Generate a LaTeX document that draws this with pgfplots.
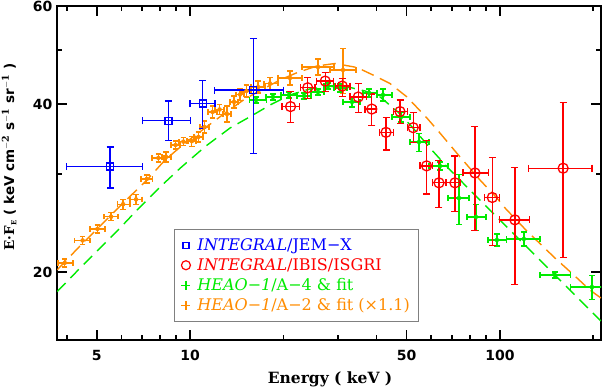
\documentclass[border=0pt]{standalone}
\usepackage{fontspec}
\setmainfont{DejaVu Serif}
\setsansfont{DejaVu Sans}
\usepackage{pgfplots}
\usepackage{pgfplotstable}
\pgfplotsset{compat=1.18}

\definecolor{cjem}{RGB}{0,0,255}
\definecolor{cisg}{RGB}{255,0,0}
\definecolor{ca4}{RGB}{0,235,0}
\definecolor{ca2}{RGB}{255,140,0}

% INTEGRAL/JEM-X
\pgfplotstableread{
x y exm exp eym eyp
5.52 30.9 1.52 1.51 2.6 2.6
8.51 37.35 1.48 1.54 2.95 3.15
10.99 40.1 0.99 1.05 3.9 3.96
16.0 42.4 4.02 4.0 9.8 10.0
}\jemx

% INTEGRAL/IBIS/ISGRI
\pgfplotstableread{
x y exm exp eym eyp
21.1 39.6 1.3 1.5 2.5 2.5
23.97 42.8 1.27 1.33 1.9 1.9
27.3 44.0 1.7 1.8 1.9 1.6
31.0 43.1 1.6 1.8 1.8 1.4
34.9 41.2 2.1 2.3 2.6 2.4
38.6 39.2 1.9 1.4 2.6 2.5
42.9 35.6 2.1 2.4 2.5 2.3
47.6 38.8 2.3 2.7 1.9 1.9
52.5 36.3 2.2 2.7 2.2 2.4
58.0 31.0 2.8 2.7 3.4 3.4
63.6 28.9 3.1 3.2 2.8 2.8
71.6 28.9 4.3 3.2 3.2 3.4
83.1 30.1 7.0 8.6 6.4 6.4
94.5 27.2 5.1 5.0 4.9 4.9
111.8 24.8 12.3 12.5 5.8 6.0
160 30.7 36 38.5 9.5 9.6
}\isgri

% HEAO-1/A-4
\pgfplotstableread{
x y exm exp ey
16.33 40.70 0.80 1.30 0.50
18.52 41.21 0.93 1.14 0.51
20.87 41.55 1.21 1.27 0.51
23.33 41.38 1.19 1.24 0.51
25.88 42.07 1.31 1.18 0.52
27.87 43.12 0.81 1.27 0.53
30.47 42.76 1.33 1.63 0.71
33.32 40.37 2.16 2.03 0.83
37.79 41.90 1.64 2.32 0.69
41.94 41.55 1.83 2.90 1.03
47.93 37.93 3.09 3.32 0.78
54.80 34.21 3.55 4.22 1.27
64.04 30.98 5.02 3.92 0.50
73.76 27.14 5.80 5.67 2.80
83.68 25.10 5.42 6.45 1.35
97.8 22.82 6.31 7.5 0.57
119.5 22.92 14.2 15.1 0.66
150.5 19.75 15.9 18.9 0.25
198.2 18.79 28.8 16.8 0.93
}\afour

% HEAO-1/A-2 (x1.1)
\pgfplotstableread{
x y exm exp ey
3.937 20.76 0.186 0.257 0.34
4.500 22.78 0.257 0.257 0.38
5.023 23.89 0.266 0.295 0.39
5.561 25.13 0.282 0.296 0.42
6.080 26.46 0.235 0.324 0.55
6.695 26.99 0.291 0.305 0.56
7.249 29.37 0.302 0.331 0.49
7.902 32.03 0.362 0.342 0.53
8.369 32.16 0.245 0.313 0.66
8.979 33.79 0.297 0.305 0.56
9.515 34.26 0.300 0.336 0.57
10.13 34.33 0.351 0.32 0.71
10.64 34.93 0.34 0.37 0.72
11.14 36.40 0.37 0.38 0.90
11.82 38.73 0.39 0.40 0.96
12.45 39.13 0.41 0.42 0.81
13.16 38.41 0.38 0.40 1.27
13.87 40.37 0.41 0.42 1.0
14.50 41.63 0.43 0.43 1.03
15.21 42.24 0.49 0.52 1.05
16.58 42.93 0.85 0.88 1.06
18.12 43.56 0.79 1.10 1.08
21.02 44.57 1.80 1.96 1.29
25.88 46.64 2.90 3.26 1.54
31.16 46.06 2.87 3.16 4.3
}\atwo

% fits
\pgfplotstableread{
x y
3.724 18.44
4.418 20.33
5.125 22.08
5.946 23.99
6.745 25.83
8.002 28.41
9.284 30.69
11.18 33.56
13.46 36.25
15.97 38.25
18.12 39.87
21.02 41.55
24.38 42.60
28.29 43.04
32.82 42.86
36.69 42.24
41.03 41.21
46.88 38.73
52.42 36.25
59.46 33.38
67.45 30.90
77.11 28.65
90.8 26.16
102.3 24.48
116.0 22.82
137.6 20.76
170.7 18.42
211.8 16.34
}\fitfour

\pgfplotstableread{
x y
3.724 20.17
4.418 22.28
5.125 24.18
5.946 26.27
7.265 29.25
8.306 31.77
9.636 34.07
11.18 36.25
12.97 38.57
15.04 40.87
17.46 42.76
19.51 44.20
22.14 45.55
25.69 46.83
29.36 47.31
34.58 46.54
38.94 45.12
44.18 43.56
50.12 41.21
58.15 37.77
64.04 35.51
72.65 32.66
86.21 29.25
97.8 27.14
103.8 26.06
122.2 23.68
150.5 21.19
174.6 19.67
195.1 18.57
211.8 17.96
}\fittwo

\begin{document}
\begin{tikzpicture}
\path[use as bounding box] (-57pt,-47pt) rectangle (546pt,340pt);
\begin{axis}[
  scale only axis, width=544pt, height=334pt,
  xmode=log, ymode=log,
  xmin=3.72, xmax=212, ymin=15.1, ymax=60,
  xtick={5,10,50,100}, xticklabels={5,10,50,100},
  minor xtick={4,6,7,8,9,20,30,40,60,70,80,90,200},
  ytick={20,40,60}, yticklabels={20,40,60},
  minor ytick={30,50},
  tick align=inside,
  major tick length=10pt, minor tick length=5pt,
  tick style={black, line width=1.6pt},
  axis line style={black, line width=1.8pt},
  ticklabel style={font=\sffamily\bfseries\fontsize{14}{14}\selectfont},
  xticklabel style={yshift=-7pt},
  yticklabel style={xshift=-1pt},
  xlabel={Energy ( keV )},
  xlabel style={font=\bfseries\fontsize{15.5}{16}\selectfont, at={(axis description cs:0.502,-0.129)}, anchor=base},
  ylabel={\textbf{E·F}$_{\textbf{\scriptsize E}}$\ \sffamily\bfseries ( keV cm$^{\mathbf{-2}}$ s$^{\mathbf{-1}}$ sr$^{\mathbf{-1}}$ )},
  ylabel style={font=\bfseries\fontsize{13.5}{14}\selectfont, at={(axis description cs:-0.088,0.548)}, anchor=center},
  legend style={at={(axis description cs:0.215,0.054)}, anchor=south west,
    draw=gray, line width=1pt, fill=white,
    font=\fontsize{16}{16}\selectfont, row sep=2.6pt,
    inner xsep=7pt, inner ysep=7pt},
  legend cell align=left,
  legend image post style={line width=1.2pt},
]
% A-2 fit and data
\addplot[ca2, line width=1.4pt, dash pattern=on 13pt off 7pt, forget plot] table {\fittwo};
\addplot[ca2, only marks, mark=none, forget plot,
  error bars/.cd, x dir=both, x explicit, y dir=both, y explicit,
  error bar style={ca2, line width=1.3pt, solid},
  error mark options={ca2, rotate=90, mark size=2.8pt, line width=1.3pt, solid}]
  table[x=x, y=y, x error minus=exm, x error plus=exp, y error=ey] {\atwo};
% A-4 fit and data
\addplot[ca4, line width=1.4pt, dash pattern=on 12pt off 7pt, forget plot] table {\fitfour};
\addplot[ca4, only marks, mark=none, forget plot,
  error bars/.cd, x dir=both, x explicit, y dir=both, y explicit,
  error bar style={ca4, line width=1.3pt, solid},
  error mark options={ca4, rotate=90, mark size=2.8pt, line width=1.3pt, solid}]
  table[x=x, y=y, x error minus=exm, x error plus=exp, y error=ey] {\afour};
% JEM-X
\addplot[cjem, only marks, mark=square, mark size=3.5pt, line width=1.3pt, forget plot,
  error bars/.cd, x dir=both, x explicit, y dir=both, y explicit,
  error bar style={cjem, line width=1.3pt, solid},
  error mark options={cjem, rotate=90, mark size=3.5pt, line width=1.3pt, solid}]
  table[x=x, y=y, x error minus=exm, x error plus=exp, y error minus=eym, y error plus=eyp] {\jemx};
% ISGRI
\addplot[cisg, only marks, mark=o, mark size=5pt, line width=1.3pt, forget plot,
  error bars/.cd, x dir=both, x explicit, y dir=both, y explicit,
  error bar style={cisg, line width=1.3pt, solid},
  error mark options={cisg, rotate=90, mark size=3.5pt, line width=1.3pt, solid}]
  table[x=x, y=y, x error minus=exm, x error plus=exp, y error minus=eym, y error plus=eyp] {\isgri};

\addlegendimage{only marks, mark=square, mark size=3pt, cjem}
\addlegendentry{\hspace{5pt}\color{cjem}\textit{INTEGRAL}/JEM−X}
\addlegendimage{only marks, mark=o, mark size=4.5pt, cisg}
\addlegendentry{\hspace{5pt}\color{cisg}\textit{INTEGRAL}/IBIS/ISGRI}
\addlegendimage{only marks, mark=+, mark size=4.5pt, ca4}
\addlegendentry{\hspace{5pt}\color{ca4}\textit{HEAO−1}/A−4 \& fit}
\addlegendimage{only marks, mark=+, mark size=4.5pt, ca2}
\addlegendentry{\hspace{5pt}\color{ca2}\textit{HEAO−1}/A−2 \& fit (×1.1)\hspace{8pt}}
\end{axis}
\end{tikzpicture}
\end{document}
